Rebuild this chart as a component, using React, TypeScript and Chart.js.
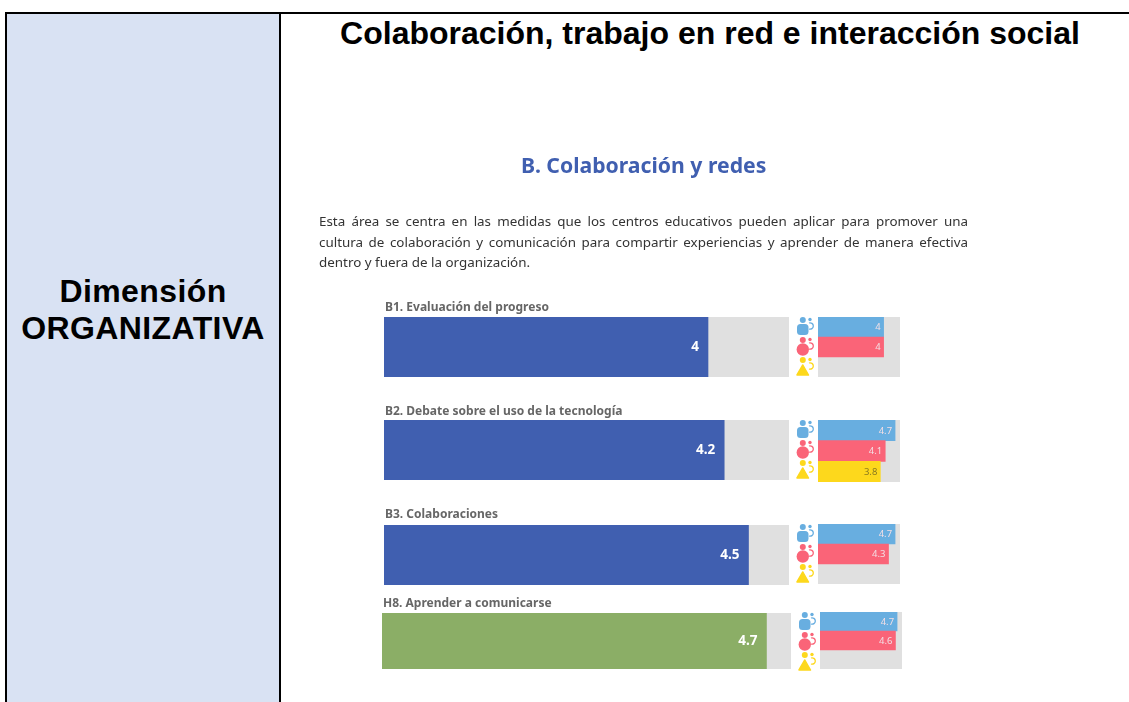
import React, { useEffect, useRef } from "react";
import { Chart, registerables } from "chart.js";

Chart.register(...registerables);

const groups = ["B1", "B2", "B3", "H8"];
const groupTitles = [
  "B1. Evaluación del progreso",
  "B2. Debate sobre el uso de la tecnología",
  "B3. Colaboraciones",
  "H8. Aprender a comunicarse",
];
const overallValues = [4, 4.2, 4.5, 4.7];
const respondents = ["Directivos", "Docentes", "Estudiantes"];
const leadersValues = [4, 4.7, 4.7, 4.7];
const teachersValues = [4, 4.1, 4.3, 4.6];
const studentsValues: (number | null)[] = [null, 3.8, null, null];
const scaleMax = 5;

const mainRects = [
  { x: 384, y: 317, w: 405, h: 60 },
  { x: 384, y: 420, w: 405, h: 60 },
  { x: 384, y: 525, w: 405, h: 60 },
  { x: 382, y: 613, w: 409, h: 56 },
];
const sideRects = [
  { x: 818, y: 317, w: 82, h: 60 },
  { x: 818, y: 420, w: 82, h: 62 },
  { x: 818, y: 524, w: 82, h: 60 },
  { x: 820, y: 612, w: 82, h: 57 },
];
const titleTops = [299, 403, 506, 595];

const TRACK = "#e0e0e0";
const BLUE = "#68aee0";
const PINK = "#fa6478";
const YELLOW = "#fdd81c";
const INDIGO = "#405fb0";
const GREEN = "#8bae66";

function makePlugin(font: string, colorFor: (i: number) => string, pad: number) {
  return {
    id: "panel",
    beforeDatasetsDraw(chart: any) {
      const { ctx, chartArea: a } = chart;
      ctx.save();
      ctx.fillStyle = TRACK;
      ctx.fillRect(a.left, a.top, a.right - a.left, a.bottom - a.top);
      ctx.restore();
    },
    afterDatasetsDraw(chart: any) {
      const { ctx } = chart;
      const meta = chart.getDatasetMeta(0);
      const data = chart.data.datasets[0].data;
      ctx.save();
      ctx.font = font;
      ctx.textAlign = "right";
      ctx.textBaseline = "middle";
      meta.data.forEach((el: any, i: number) => {
        if (data[i] == null) return;
        ctx.fillStyle = colorFor(i);
        ctx.fillText(String(data[i]), el.x - pad, el.y + 0.5);
      });
      ctx.restore();
    },
  };
}

function BarPanel({ rect, labels, values, colors, font, labelColor, pad }: any) {
  const ref = useRef<HTMLCanvasElement>(null);
  useEffect(() => {
    const chart = new Chart(ref.current!, {
      type: "bar",
      data: {
        labels,
        datasets: [
          { data: values, backgroundColor: colors, barPercentage: 1, categoryPercentage: 1, borderWidth: 0 },
        ],
      },
      options: {
        indexAxis: "y",
        animation: false,
        responsive: false,
        layout: { padding: 0 },
        plugins: { legend: { display: false }, tooltip: { enabled: false }, title: { display: false } },
        scales: {
          x: { display: false, min: 0, max: scaleMax },
          y: { display: false },
        },
      },
      plugins: [makePlugin(font, labelColor, pad)],
    } as any);
    return () => chart.destroy();
  }, []);
  return (
    <canvas
      ref={ref}
      width={rect.w}
      height={rect.h}
      style={{ position: "absolute", left: rect.x, top: rect.y, width: rect.w, height: rect.h, display: "block" }}
    />
  );
}

function Icon({ x, y, color, shape }: { x: number; y: number; color: string; shape: string }) {
  return (
    <svg width={20} height={20} viewBox="0 0 20 20" style={{ position: "absolute", left: x, top: y }}>
      <circle cx={6.8} cy={3} r={3} fill={color} />
      {shape === "square" && <rect x={1} y={7} width={11.5} height={11} rx={3.5} fill={color} />}
      {shape === "circle" && <circle cx={6.8} cy={12.5} r={6.2} fill={color} />}
      {shape === "triangle" && <path d="M6.8 8 L12.5 18 L1 18 Z" fill={color} strokeLinejoin="round" stroke={color} strokeWidth={1.5} />}
      <circle cx={14} cy={2.5} r={1.7} fill={color} />
      <path d="M13 6 A3.2 3.2 0 1 1 13 12" fill="none" stroke={color} strokeWidth={1.3} />
    </svg>
  );
}

const paragraph = [
  "Esta área se centra en las medidas que los centros educativos pueden aplicar para promover una",
  "cultura de colaboración y comunicación para compartir experiencias y aprender de manera efectiva",
];
const paragraphLast = "dentro y fuera de la organización.";

export default function App() {
  const arial = '"Liberation Sans", Arial, sans-serif';
  const inner = '"Noto Sans", sans-serif';
  return (
    <div style={{ position: "fixed", left: 0, top: 0, width: 1129, height: 702, overflow: "hidden", background: "#fff" }}>
      <div style={{ position: "absolute", left: 7, top: 14, width: 272, height: 700, background: "#d9e2f3" }} />
      <div style={{ position: "absolute", left: 5, top: 12, width: 1124, height: 2, background: "#000" }} />
      <div style={{ position: "absolute", left: 5, top: 12, width: 2, height: 700, background: "#000" }} />
      <div style={{ position: "absolute", left: 279, top: 12, width: 2, height: 700, background: "#000" }} />
      <div style={{ position: "absolute", left: 7, top: 273, width: 272, textAlign: "center", font: `bold 32px/37px ${arial}`, letterSpacing: 0.4, color: "#000" }}>
        Dimensión
        <br />
        ORGANIZATIVA
      </div>
      <div style={{ position: "absolute", left: 281, top: 15, width: 858, textAlign: "center", font: `bold 32px/37px ${arial}`, color: "#000" }}>
        Colaboración, trabajo en red e interacción social
      </div>

      <div style={{ position: "absolute", inset: 0, filter: "blur(0.7px)" }}>
        <div style={{ position: "absolute", left: 521, top: 150, font: `bold 21.2px/30px ${inner}`, color: INDIGO, whiteSpace: "nowrap" }}>
          B. Colaboración y redes
        </div>
        {paragraph.map((t, i) => (
          <div
            key={i}
            style={{
              position: "absolute", left: 319, top: 212 + i * 21, width: 649, font: `13.4px/18px ${inner}`, color: "#333",
              textAlign: "justify", textAlignLast: "justify", whiteSpace: "nowrap",
            }}
          >
            {t}
          </div>
        ))}
        <div style={{ position: "absolute", left: 319, top: 253, font: `13.4px/18px ${inner}`, color: "#333", whiteSpace: "nowrap" }}>
          {paragraphLast}
        </div>

        {groups.map((g, i) => (
          <React.Fragment key={g}>
            <div style={{ position: "absolute", left: mainRects[i].x + 1, top: titleTops[i], font: `bold 12px/15px ${inner}`, color: "#666", whiteSpace: "nowrap" }}>
              {groupTitles[i]}
            </div>
            <BarPanel
              rect={mainRects[i]}
              labels={[g]}
              values={[overallValues[i]]}
              colors={[g === "H8" ? GREEN : INDIGO]}
              font={`bold 13.5px ${inner}`}
              labelColor={() => "#ffffff"}
              pad={9}
            />
            <BarPanel
              rect={sideRects[i]}
              labels={respondents}
              values={[leadersValues[i], teachersValues[i], studentsValues[i]]}
              colors={[BLUE, PINK, YELLOW]}
              font={`9.5px ${inner}`}
              labelColor={(k: number) => (k === 2 ? "#8a7a20" : "#f3dfe5")}
              pad={3}
            />
            <Icon x={sideRects[i].x - 22} y={sideRects[i].y + 0} color={BLUE} shape="square" />
            <Icon x={sideRects[i].x - 22} y={sideRects[i].y + 20} color={PINK} shape="circle" />
            <Icon x={sideRects[i].x - 22} y={sideRects[i].y + 40} color={YELLOW} shape="triangle" />
          </React.Fragment>
        ))}
      </div>
    </div>
  );
}
